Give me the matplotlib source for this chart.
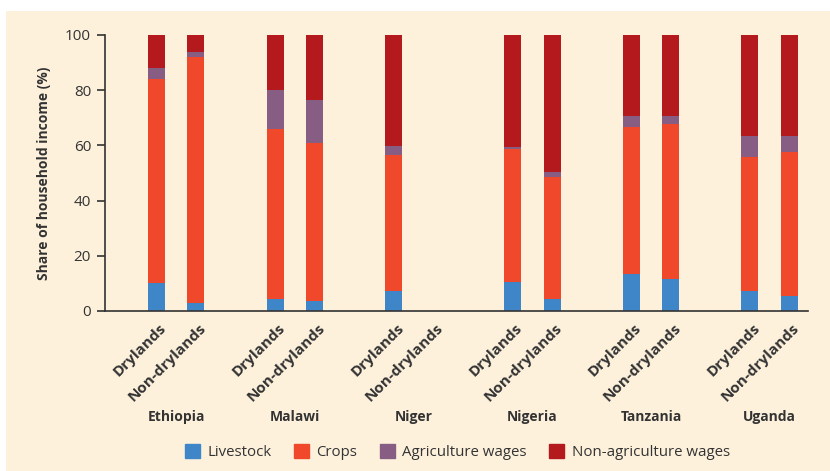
import matplotlib
matplotlib.use('Agg')
import matplotlib.pyplot as plt
import matplotlib.patches as mpatches
import matplotlib.transforms as mtransforms
import numpy as np

plt.rcParams['font.family'] = ['Open Sans', 'DejaVu Sans']

countries = ['Ethiopia', 'Malawi', 'Niger', 'Nigeria', 'Tanzania', 'Uganda']
zones = ['Drylands', 'Non-drylands']
series = ['Livestock', 'Crops', 'Agriculture wages', 'Non-agriculture wages']

# shares (%) in order: Ethiopia D, ND, Malawi D, ND, Niger D, ND, Nigeria D, ND, Tanzania D, ND, Uganda D, ND
livestock = [10, 3, 4.3, 3.6, 7.2, 0, 10.6, 4.3, 13.5, 11.6, 7.2, 5.5]
crops = [74, 89, 61.7, 57.4, 49.3, 0, 48.1, 44.3, 53.2, 56.2, 48.6, 52.1]
ag_wages = [4, 2, 14, 15.4, 3.3, 0, 0.7, 1.8, 4, 2.9, 7.6, 5.8]
nonag_wages = [12, 6, 20, 23.6, 40.2, 0, 40.6, 49.6, 29.3, 29.3, 36.6, 36.6]

colors = ['#3f86c8', '#f0482a', '#875d84', '#b4191e']
bg = '#fdf1dc'
dark = '#333333'

fig = plt.figure(figsize=(8.3, 4.71), dpi=100, facecolor='white')
fig.patches.append(mpatches.Rectangle((6 / 830, 0), 1, 1 - 11 / 471,
                                      transform=fig.transFigure,
                                      facecolor=bg, edgecolor='none', zorder=-10))
ax = fig.add_axes([105 / 830, 1 - 311 / 471, 703 / 830, 276 / 471])
ax.set_facecolor('none')

x = []
for i in range(len(countries)):
    x += [i * 3, i * 3 + 1]
x = np.array(x, dtype=float)

bottom = np.zeros(len(x))
for vals, col, name in zip([livestock, crops, ag_wages, nonag_wages], colors, series):
    ax.bar(x, vals, width=0.43, bottom=bottom, color=col, label=name, zorder=2)
    bottom += np.array(vals)

ax.set_xlim(-1.3, 16.47)
ax.set_ylim(0, 100)
ax.set_yticks([0, 20, 40, 60, 80, 100])
ax.tick_params(axis='y', direction='out', length=6, width=1.2, color=dark,
               labelsize=11, labelcolor=dark, pad=4)
ax.set_ylabel('Share of household income (%)', fontsize=10, fontweight='bold',
              color=dark, labelpad=10)

ax.set_xticks(x)
ax.set_xticklabels(zones * len(countries), rotation=45, fontsize=11,
                   fontweight='bold', color=dark, ha='right',
                   rotation_mode='anchor')
ax.tick_params(axis='x', length=0, pad=7)
offset = mtransforms.ScaledTranslation(2 / 72, 0, fig.dpi_scale_trans)
for lbl in ax.get_xticklabels():
    lbl.set_transform(lbl.get_transform() + offset)

for s in ['top', 'right']:
    ax.spines[s].set_visible(False)
ax.spines['left'].set_color(dark)
ax.spines['left'].set_linewidth(1.2)
ax.spines['bottom'].set_color(dark)
ax.spines['bottom'].set_linewidth(1.2)

for i, c in enumerate(countries):
    ax.text(i * 3 + 0.5, -38.5, c, ha='center', va='center', fontsize=10,
            fontweight='bold', color=dark, transform=ax.transData, clip_on=False)

handles = [mpatches.Patch(color=c) for c in colors]
fig.legend(handles, series, loc='center', bbox_to_anchor=(0.551, 1 - 452 / 471),
           ncol=4, frameon=False, fontsize=10.8, handlelength=1.0, handleheight=1.0,
           handletextpad=0.5, columnspacing=1.5, labelcolor=dark)

fig.savefig('out.png', dpi=100, facecolor=fig.get_facecolor())
